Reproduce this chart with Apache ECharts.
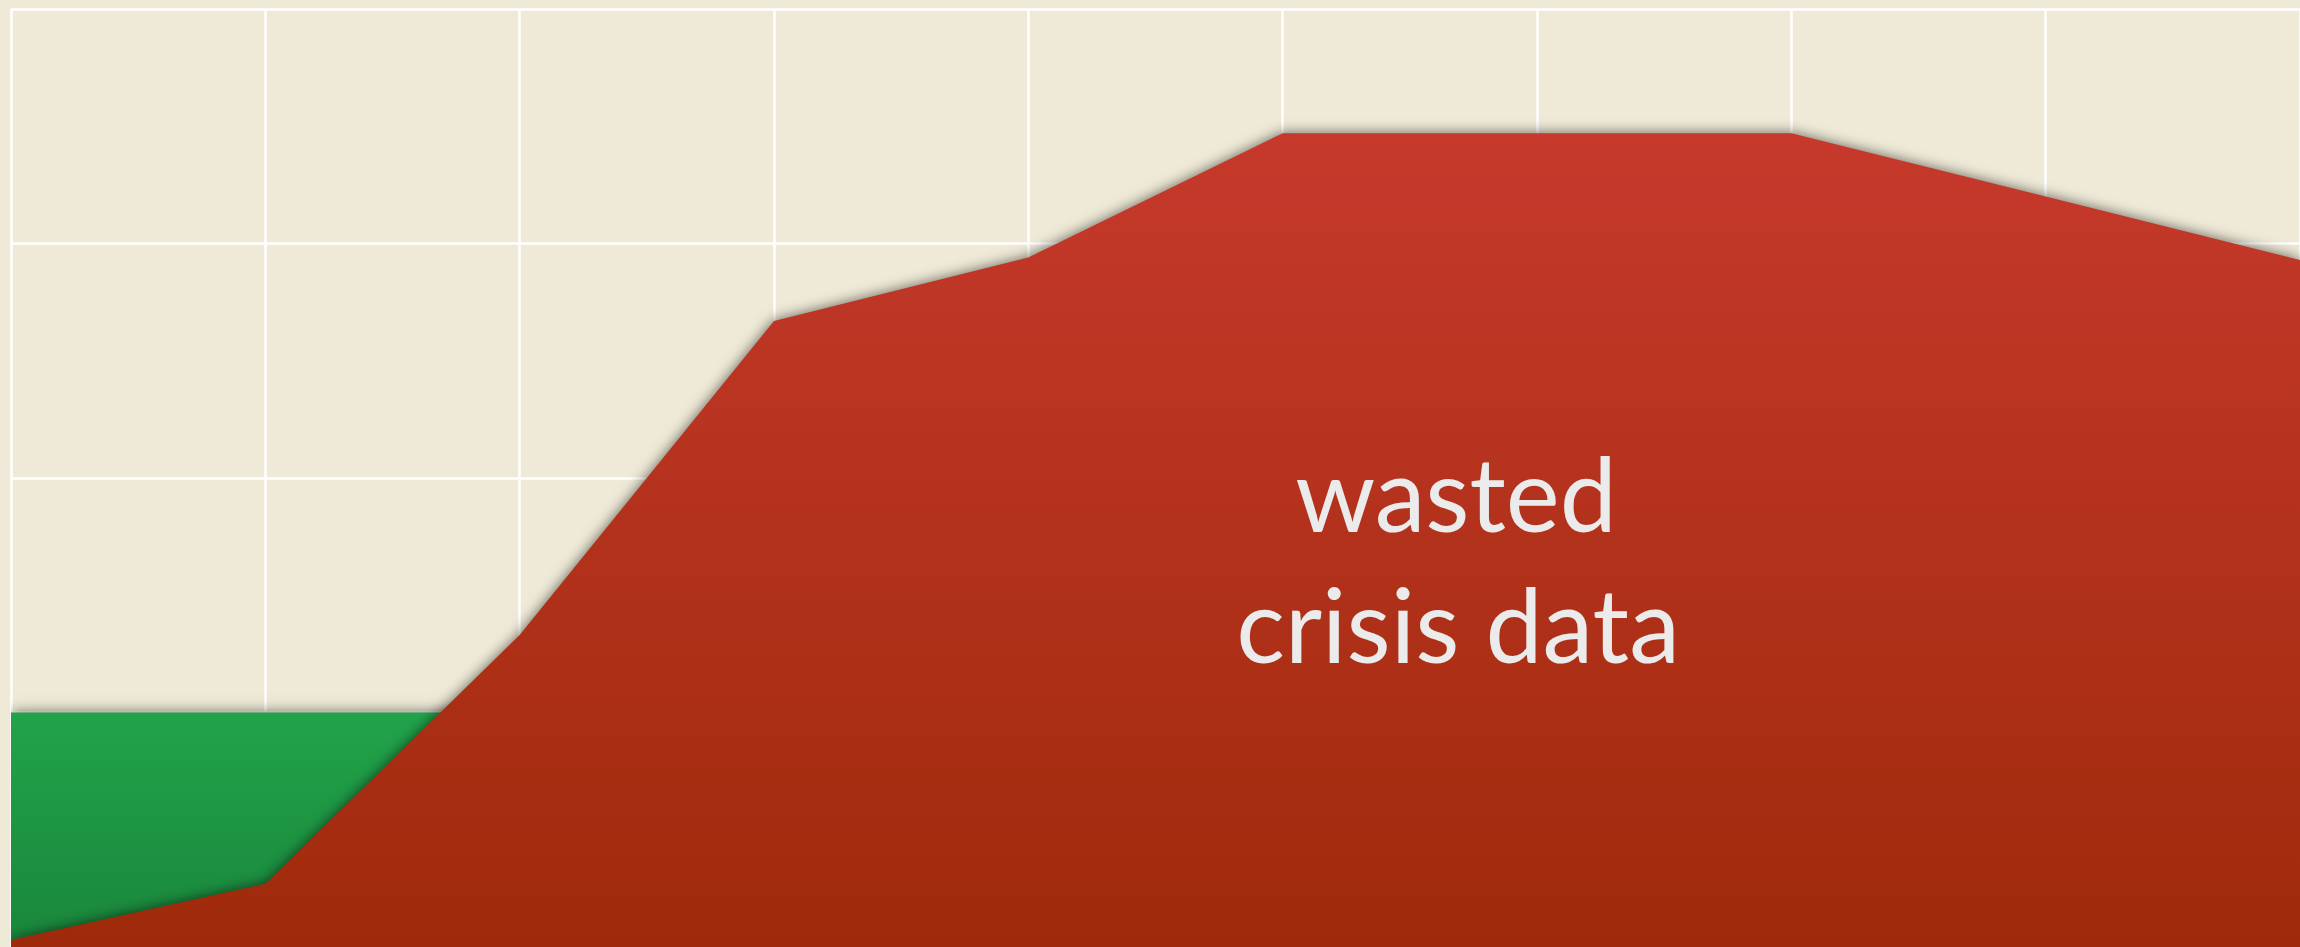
<!DOCTYPE html>
<html>
<head>
<meta charset="utf-8">
<script src="https://cdn.jsdelivr.net/npm/echarts@6/dist/echarts.min.js"></script>
<style>
html,body{margin:0;padding:0;background:#EFEAD7;}
#c{width:2300px;height:947px;}
</style>
</head>
<body>
<div id="c"></div>
<script>
const categories = ['0','1','2','3','4','5','6','7','8','9'];
const usedData = [1, 1, 1, 1, 1, 1, 1, 1, 1, 1];
const wastedData = [0.03, 0.27, 1.33, 2.67, 2.94, 3.47, 3.47, 3.47, 3.2, 2.93];
const labelLines = ['wasted', 'crisis data'];

const chart = echarts.init(document.getElementById('c'), null, {renderer: 'canvas'});
chart.setOption({
  animation: false,
  backgroundColor: '#EFEAD7',
  grid: {left: 11, top: 9, right: -3, bottom: -1, containLabel: false},
  xAxis: {
    type: 'category', data: categories, boundaryGap: false,
    axisLine: {show: false}, axisTick: {show: false}, axisLabel: {show: false},
    splitLine: {show: true, lineStyle: {color: '#ffffff', width: 2.5}}
  },
  yAxis: {
    type: 'value', min: 0, max: 4, interval: 1,
    axisLine: {show: false}, axisTick: {show: false}, axisLabel: {show: false},
    splitLine: {show: true, lineStyle: {color: '#ffffff', width: 2.5}}
  },
  series: [
    {
      name: 'used', type: 'line', data: usedData, showSymbol: false, symbol: 'none',
      lineStyle: {width: 0},
      areaStyle: {
        opacity: 1,
        color: {type: 'linear', x: 0, y: 0, x2: 0, y2: 1, colorStops: [
          {offset: 0, color: '#21A34A'}, {offset: 1, color: '#1A863B'}]},
        shadowBlur: 14, shadowColor: 'rgba(0,0,0,0.6)'
      }
    },
    {
      name: 'wasted', type: 'line', data: wastedData, showSymbol: false, symbol: 'none',
      lineStyle: {width: 0},
      areaStyle: {
        opacity: 1,
        color: {type: 'linear', x: 0, y: 0, x2: 0, y2: 1, colorStops: [
          {offset: 0, color: '#C6392C'}, {offset: 1, color: '#9F2A0B'}]},
        shadowBlur: 14, shadowColor: 'rgba(0,0,0,0.6)'
      }
    }
  ],
  graphic: [
    {
      type: 'text', x: 1456, y: 448, z: 100, silent: true,
      style: {text: labelLines[0], fill: '#EBEBEB', font: '102px Lato', align: 'center', verticalAlign: 'top'}
    },
    {
      type: 'text', x: 1458, y: 579, z: 100, silent: true,
      style: {text: labelLines[1], fill: '#EBEBEB', font: '102px Lato', align: 'center', verticalAlign: 'top'}
    }
  ]
});
</script>
</body>
</html>
